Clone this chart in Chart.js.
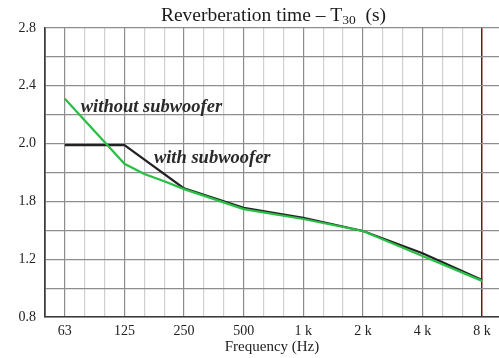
<!DOCTYPE html>
<html><head><meta charset="utf-8">
<script src="https://cdn.jsdelivr.net/npm/chart.js@4/dist/chart.umd.min.js"></script>
<style>html,body{margin:0;padding:0;background:#fff;overflow:hidden}</style>
</head><body>
<canvas id="c" width="499" height="358"></canvas>
<script>
// 1/3-octave band centres (index 0 = 63 Hz ... 21 = 8 kHz)
const bands = ['63','80','100','125','160','200','250','315','400','500','630','800','1 k','1.25 k','1.6 k','2 k','2.5 k','3.15 k','4 k','5 k','6.3 k','8 k'];
const octaveLabels = ['63','125','250','500','1 k','2 k','4 k','8 k'];
// T30 readings (s); null = no reading at that band
const withoutSub = [2.31,null,null,1.86,1.79,1.74,1.685,null,null,1.547,null,null,1.478,null,null,1.395,null,null,1.222,null,null,1.05];
const withSub    = [1.99,null,null,1.99,null,null,1.69,null,null,1.556,null,null,1.487,null,null,1.395,null,null,1.241,null,null,1.056];
const yGridValues  = [0.8,1.0,1.2,1.4,1.6,1.8,2.0,2.2,2.4,2.6,2.8];
const yLabelValues = [0.8,1.2,1.6,2.0,2.4,2.8];
const yLabels      = ['0.8','1.2','1.8','2.0','2.4','2.8'];
const titleMain = 'Reverberation time \u2013 T', titleSub = '30', titleTail = '  (s)';

const toPts = arr => arr.map((v,i)=> v==null ? null : {x:i, y:v}).filter(p=>p);

const titlePlugin = {
  id:'subTitle',
  afterDraw(chart){
    const ctx = chart.ctx; ctx.save();
    const f1 = '19.5px "Liberation Serif"', f2 = '13.5px "Liberation Serif"';
    ctx.font=f1; const w1 = ctx.measureText(titleMain).width, w3 = ctx.measureText(titleTail).width;
    ctx.font=f2; const w2 = ctx.measureText(titleSub).width;
    const cx = 273.5;
    let x = cx - (w1+w2+w3)/2, base = 20.5;
    ctx.fillStyle='#1a1a1a'; ctx.textBaseline='alphabetic'; ctx.textAlign='left';
    ctx.font=f1; ctx.fillText(titleMain, x, base); x+=w1;
    ctx.font=f2; ctx.fillText(titleSub, x, base+3.5); x+=w2;
    ctx.font=f1; ctx.fillText(titleTail, x, base);
    ctx.restore();
  }
};
const annotPlugin = {
  id:'annot',
  afterDatasetsDraw(chart, args, opts){
    const {ctx, scales:{x,y}} = chart; ctx.save();
    ctx.font='italic bold 18.5px "Liberation Serif"'; ctx.fillStyle='#2a2a2a';
    ctx.textBaseline='alphabetic'; ctx.textAlign='left';
    opts.items.forEach(it => ctx.fillText(it.text, x.getPixelForValue(it.x), y.getPixelForValue(it.y)));
    ctx.restore();
  }
};

new Chart(document.getElementById('c'), {
  type:'line',
  data:{datasets:[
    {label:'without subwoofer', data:toPts(withoutSub), borderColor:'#27c044', borderWidth:2.2, pointRadius:0, tension:0, order:0},
    {label:'with subwoofer', data:toPts(withSub), borderColor:'#222222', borderWidth:2.2, pointRadius:0, tension:0, order:1}
  ]},
  options:{
    responsive:false, animation:false, devicePixelRatio:1,
    layout:{padding:{top:28,right:0,left:0,bottom:0}},
    plugins:{
      legend:{display:false}, tooltip:{enabled:false}, title:{display:false},
      annot:{items:[{text:'without subwoofer', x:0.8, y:2.22},{text:'with subwoofer', x:4.48, y:1.866}]}
    },
    scales:{
      x:{
        type:'linear', min:-1, max:21.85,
        afterBuildTicks: s => { s.ticks = [{value:-1}].concat(bands.map((b,i)=>({value:i}))); },
        afterFit: s => { s.height = 41; },
        grid:{
          drawTicks:false,
          color: c => { const v=c.tick.value; if(v===-1) return '#444'; if(v===21) return '#6e1818'; return v%3===0 ? '#8c8c8c' : '#d0d0d0'; },
          lineWidth: c => { const v=c.tick.value; return (v===21||v===-1) ? 1.5 : 1.2; }
        },
        border:{display:true, color:'#3a3a3a', width:1.5},
        ticks:{autoSkip:false, maxRotation:0, padding:6, color:'#222', font:{family:'"Liberation Serif"', size:14},
          callback: v => (v>=0 && v%3===0) ? octaveLabels[v/3] : ''},
        title:{display:true, text:'Frequency (Hz)', color:'#222', font:{family:'"Liberation Serif"', size:15}, padding:{top:0,bottom:2}}
      },
      y:{
        min:0.8, max:2.8,
        afterBuildTicks: s => { s.ticks = yGridValues.map(v=>({value:v})); },
        afterFit: s => { s.width = 45; },
        grid:{drawTicks:false, color:'#8e8e8e', lineWidth:1.2},
        border:{display:true, color:'#3a3a3a', width:1.5},
        ticks:{padding:9, color:'#222', font:{family:'"Liberation Serif"', size:14},
          callback: v => { const i = yLabelValues.findIndex(a => Math.abs(a-v) < 1e-6); return i>=0 ? yLabels[i] : ''; }}
      }
    }
  },
  plugins:[titlePlugin, annotPlugin]
});
</script>
</body></html>
